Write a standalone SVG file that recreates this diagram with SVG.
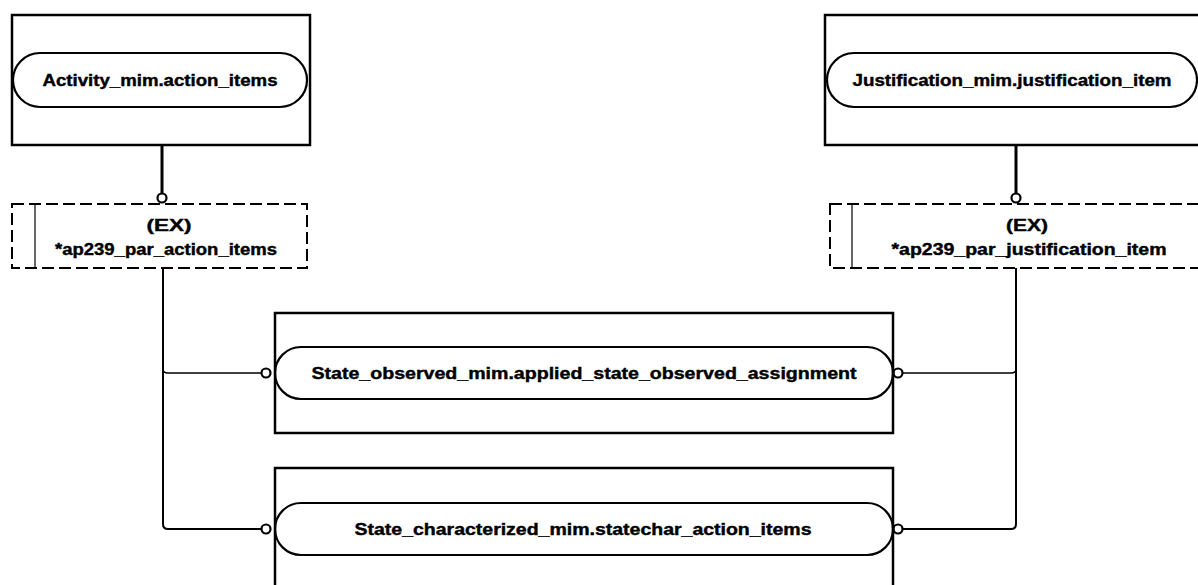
<svg xmlns="http://www.w3.org/2000/svg" width="1198" height="585" viewBox="0 0 1198 585">
<style>
.box{fill:none;stroke:#000;stroke-width:2.5}
.pill{fill:none;stroke:#000;stroke-width:2.2}
.dash{fill:none;stroke:#000;stroke-width:2;stroke-dasharray:12 5}
.inner{stroke:#000;stroke-width:1.2}
.t{font-family:"Liberation Sans",Arial,sans-serif;font-weight:bold;font-size:16px;fill:#000;stroke:#000;stroke-width:0.4;text-anchor:middle}
.c{fill:#fff;stroke:#000;stroke-width:2.2}
.thick{fill:none;stroke:#000;stroke-width:3}
.ln{fill:none;stroke:#000;stroke-width:2}
.thin{fill:none;stroke:#000;stroke-width:1.5}
</style>
<rect width="1198" height="585" fill="#fff"/>
<g id="connectors">
<line class="thick" x1="162" y1="145" x2="162" y2="193"/>
<circle class="c" cx="162" cy="198" r="4.5"/>
<line class="thick" x1="1016" y1="145" x2="1016" y2="193"/>
<circle class="c" cx="1016" cy="198" r="4.5"/>
<path class="ln" d="M163,268 V524 Q163,529 168,529 H261"/>
<path class="thin" d="M163,369 Q163,373 168,373 H262"/>
<circle class="c" cx="266" cy="373" r="4.5"/>
<circle class="c" cx="266" cy="529" r="4.5"/>
<path class="ln" d="M1016,268 V524 Q1016,529 1011,529 H903"/>
<path class="thin" d="M1016,369 Q1016,373 1011,373 H903"/>
<circle class="c" cx="898" cy="373" r="4.5"/>
<circle class="c" cx="898" cy="529" r="4.5"/>
</g>
<g id="activity_mim">
<rect class="box" x="12" y="15" width="298" height="130"/>
<path class="pill" d="M40,53 H280 A27,27 0 0 1 280,107 H40 A27,27 0 0 1 40,53 Z"/>
<text class="t" x="160" y="86" textLength="235" lengthAdjust="spacingAndGlyphs">Activity_mim.action_items</text>
</g>
<g id="justification_mim">
<rect class="box" x="825" y="15" width="376" height="130"/>
<path class="pill" d="M854,53 H1170 A27,27 0 0 1 1170,107 H854 A27,27 0 0 1 854,53 Z"/>
<text class="t" x="1012" y="86" textLength="319" lengthAdjust="spacingAndGlyphs">Justification_mim.justification_item</text>
</g>
<g id="ex_action_items">
<rect class="dash" x="12" y="204" width="295" height="64"/>
<line class="inner" x1="35" y1="204" x2="35" y2="268"/>
<text class="t" x="169" y="231" textLength="45" lengthAdjust="spacingAndGlyphs">(EX)</text>
<text class="t" x="166" y="255" textLength="222" lengthAdjust="spacingAndGlyphs">*ap239_par_action_items</text>
</g>
<g id="ex_justification_item">
<rect class="dash" x="830" y="204" width="375" height="64"/>
<line class="inner" x1="852" y1="204" x2="852" y2="268"/>
<text class="t" x="1027" y="231" textLength="42" lengthAdjust="spacingAndGlyphs">(EX)</text>
<text class="t" x="1029" y="255" textLength="275" lengthAdjust="spacingAndGlyphs">*ap239_par_justification_item</text>
</g>
<g id="state_observed">
<rect class="box" x="275" y="313" width="618" height="120"/>
<path class="pill" d="M301,347 H867 A26,26 0 0 1 867,399 H301 A26,26 0 0 1 301,347 Z"/>
<text class="t" x="584" y="379" textLength="545" lengthAdjust="spacingAndGlyphs">State_observed_mim.applied_state_observed_assignment</text>
</g>
<g id="state_characterized">
<rect class="box" x="275" y="468" width="618" height="130"/>
<path class="pill" d="M301,503 H867 A26,26 0 0 1 867,555 H301 A26,26 0 0 1 301,503 Z"/>
<text class="t" x="583" y="535" textLength="457" lengthAdjust="spacingAndGlyphs">State_characterized_mim.statechar_action_items</text>
</g>
</svg>
